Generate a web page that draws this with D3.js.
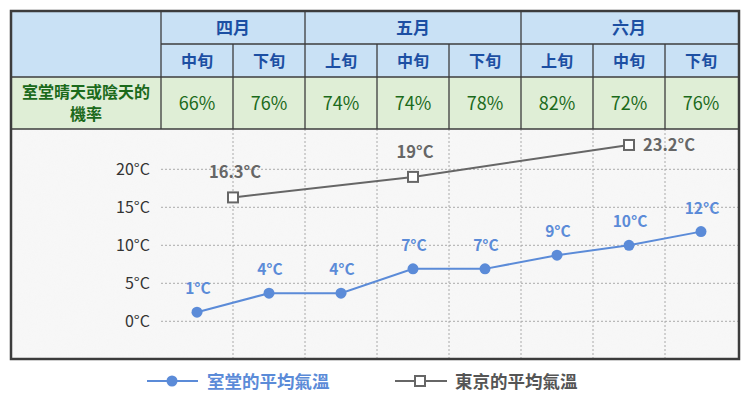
<!doctype html>
<html lang="zh-Hant">
<head>
<meta charset="utf-8">
<title>室堂與東京的平均氣溫</title>
<script src="https://d3js.org/d3.v7.min.js"></script>
<style>
  body { margin: 0; background: #fff; }
  svg text { font-family: "Noto Sans CJK TC", "Noto Sans", sans-serif; }
</style>
</head>
<body>
<div id="chart"></div>
<script>
// data
var months = ["四月", "五月", "六月"];
var monthSpans = [2, 3, 3];
var periods = ["中旬", "下旬", "上旬", "中旬", "下旬", "上旬", "中旬", "下旬"];
var clearRate = ["66%", "76%", "74%", "74%", "78%", "82%", "72%", "76%"];
var rowTitle = ["室堂晴天或陰天的", "機率"];
var murodoTemp = [1.2, 3.7, 3.7, 6.9, 6.9, 8.7, 10, 11.8];
var murodoLabels = ["1°C", "4°C", "4°C", "7°C", "7°C", "9°C", "10°C", "12°C"];
var tokyoPos = [0.5, 3, 6];
var tokyoTemp = [16.3, 19, 23.2];
var tokyoLabels = ["16.3°C", "19°C", "23.2°C"];
var yTicks = [0, 5, 10, 15, 20];
var seriesNames = ["室堂的平均氣溫", "東京的平均氣溫"];

var W = 750, H = 400;
var bx0 = 11, bx1 = 739, by0 = 11, by1 = 359;
var firstCol = 150, colW = 72;
var row1 = 33, row2 = 33, row3 = 52;
var chartTop = by0 + row1 + row2 + row3;

var blue = "#5b8bd8", gray = "#666", lineCol = "#3c3c3c";

var svg = d3.select("#chart").append("svg").attr("width", W).attr("height", H);

var x = d3.scaleLinear().domain([0, 1]).range([bx0 + firstCol + colW / 2, bx0 + firstCol + colW * 1.5]);
var y = d3.scaleLinear().domain([0, 20]).range([321.3, 169.3]);

// backgrounds
svg.append("rect").attr("x", bx0).attr("y", by0).attr("width", bx1 - bx0).attr("height", row1 + row2)
  .attr("fill", "#c9e1f5");
svg.append("rect").attr("x", bx0).attr("y", by0 + row1 + row2).attr("width", bx1 - bx0).attr("height", row3)
  .attr("fill", "#dfeed6");

var defs = svg.append("defs");
var f = defs.append("filter").attr("id", "paper");
f.append("feTurbulence").attr("type", "fractalNoise").attr("baseFrequency", 0.9).attr("numOctaves", 2).attr("result", "n");
f.append("feColorMatrix").attr("in", "n").attr("type", "matrix")
  .attr("values", "0 0 0 0 0.92  0 0 0 0 0.92  0 0 0 0 0.92  0 0 0 -1.4 0.9");
f.append("feComposite").attr("in2", "SourceGraphic").attr("operator", "in");
svg.append("rect").attr("x", bx0).attr("y", chartTop).attr("width", bx1 - bx0).attr("height", by1 - chartTop)
  .attr("fill", "#f7f7f7");
svg.append("rect").attr("x", bx0).attr("y", chartTop).attr("width", bx1 - bx0).attr("height", by1 - chartTop)
  .attr("fill", "#f7f7f7").attr("filter", "url(#paper)").attr("opacity", 0.8);

// grid
var colEdges = d3.range(1, periods.length).map(function(i) { return x(i - 0.5); });
svg.append("g").selectAll("line").data(colEdges).enter().append("line")
  .attr("x1", function(d) { return d; }).attr("x2", function(d) { return d; })
  .attr("y1", chartTop).attr("y2", by1)
  .attr("stroke", "#aaa").attr("stroke-dasharray", "2,2");
svg.append("g").selectAll("line").data(yTicks).enter().append("line")
  .attr("x1", bx0 + firstCol).attr("x2", bx1)
  .attr("y1", function(d) { return y(d); }).attr("y2", function(d) { return y(d); })
  .attr("stroke", "#aaa").attr("stroke-dasharray", "2,2");

// y axis labels
var yAxis = d3.axisLeft(y).tickValues(yTicks).tickSize(0).tickPadding(11)
  .tickFormat(function(d) { return d + "°C"; });
var ya = svg.append("g").attr("transform", "translate(" + (bx0 + firstCol) + ",0)").call(yAxis);
ya.select(".domain").remove();
ya.selectAll("text").attr("font-size", 16).attr("fill", "#333")
  .style("font-family", "'Noto Sans CJK TC', sans-serif");

// table lines
var tl = svg.append("g").attr("stroke", lineCol).attr("stroke-width", 1.3);
[by0 + row1 + row2, chartTop].forEach(function(yy) {
  tl.append("line").attr("x1", bx0).attr("x2", bx1).attr("y1", yy).attr("y2", yy);
});
tl.append("line").attr("x1", bx0 + firstCol).attr("x2", bx1).attr("y1", by0 + row1).attr("y2", by0 + row1);
tl.append("line").attr("x1", bx0 + firstCol).attr("x2", bx0 + firstCol).attr("y1", by0).attr("y2", chartTop);
var acc = 0;
var monthStart = monthSpans.map(function(s) { var a = acc; acc += s; return a; });
colEdges.forEach(function(cx, i) {
  var isMonth = monthStart.indexOf(i + 1) >= 0;
  tl.append("line").attr("x1", cx).attr("x2", cx)
    .attr("y1", isMonth ? by0 : by0 + row1).attr("y2", chartTop);
});
svg.append("rect").attr("x", bx0).attr("y", by0).attr("width", bx1 - bx0).attr("height", by1 - by0)
  .attr("fill", "none").attr("stroke", lineCol).attr("stroke-width", 2.5);

// header text
svg.append("g").selectAll("text").data(months).enter().append("text")
  .attr("x", function(d, i) { return x(monthStart[i] - 0.5 + monthSpans[i] / 2); })
  .attr("y", by0 + row1 / 2 + 6)
  .attr("text-anchor", "middle").attr("font-size", 17).attr("font-weight", "bold").attr("fill", "#1c4fa3")
  .text(function(d) { return d; });
svg.append("g").selectAll("text").data(periods).enter().append("text")
  .attr("x", function(d, i) { return x(i); })
  .attr("y", by0 + row1 + row2 / 2 + 6)
  .attr("text-anchor", "middle").attr("font-size", 16).attr("font-weight", "bold").attr("fill", "#1c4fa3")
  .text(function(d) { return d; });
svg.append("g").selectAll("text").data(clearRate).enter().append("text")
  .attr("x", function(d, i) { return x(i); })
  .attr("y", by0 + row1 + row2 + row3 / 2 + 6.5)
  .attr("text-anchor", "middle").attr("font-size", 18).attr("fill", "#1b6a1b")
  .text(function(d) { return d; });
svg.append("g").selectAll("text").data(rowTitle).enter().append("text")
  .attr("x", bx0 + firstCol / 2)
  .attr("y", function(d, i) { return by0 + row1 + row2 + 21 + i * 22; })
  .attr("text-anchor", "middle").attr("font-size", 16).attr("font-weight", "bold").attr("fill", "#1b6a1b")
  .text(function(d) { return d; });

// tokyo series
var tokyo = tokyoPos.map(function(p, i) { return { p: p, v: tokyoTemp[i], l: tokyoLabels[i] }; });
svg.append("path").datum(tokyo)
  .attr("d", d3.line().x(function(d) { return x(d.p); }).y(function(d) { return y(d.v); }))
  .attr("fill", "none").attr("stroke", gray).attr("stroke-width", 2);
svg.append("g").selectAll("rect").data(tokyo).enter().append("rect")
  .attr("x", function(d) { return x(d.p) - 5; }).attr("y", function(d) { return y(d.v) - 5; })
  .attr("width", 10).attr("height", 10).attr("fill", "#fff").attr("stroke", gray).attr("stroke-width", 2);
svg.append("g").selectAll("text").data(tokyo).enter().append("text")
  .attr("x", function(d, i) { return i === tokyo.length - 1 ? x(d.p) + 14 : x(d.p) + 2; })
  .attr("y", function(d, i) { return i === tokyo.length - 1 ? y(d.v) + 6 : y(d.v) - 19; })
  .attr("text-anchor", function(d, i) { return i === tokyo.length - 1 ? "start" : "middle"; })
  .attr("font-size", 16.5).attr("font-weight", "bold").attr("fill", gray)
  .text(function(d) { return d.l; });

// murodo series
var murodo = murodoTemp.map(function(v, i) { return { p: i, v: v, l: murodoLabels[i] }; });
svg.append("path").datum(murodo)
  .attr("d", d3.line().x(function(d) { return x(d.p); }).y(function(d) { return y(d.v); }))
  .attr("fill", "none").attr("stroke", blue).attr("stroke-width", 2);
svg.append("g").selectAll("circle").data(murodo).enter().append("circle")
  .attr("cx", function(d) { return x(d.p); }).attr("cy", function(d) { return y(d.v); })
  .attr("r", 5.5).attr("fill", blue);
svg.append("g").selectAll("text").data(murodo).enter().append("text")
  .attr("x", function(d) { return x(d.p) + 1; })
  .attr("y", function(d) { return y(d.v) - 18; })
  .attr("text-anchor", "middle").attr("font-size", 15.5).attr("font-weight", "bold").attr("fill", blue)
  .text(function(d) { return d.l; });

// legend
var lg = svg.append("g").attr("transform", "translate(0,381)");
lg.append("line").attr("x1", 147).attr("x2", 198).attr("stroke", blue).attr("stroke-width", 2);
lg.append("circle").attr("cx", 172).attr("r", 5.5).attr("fill", blue);
lg.append("text").attr("x", 207).attr("y", 6.5).attr("font-size", 17.5).attr("font-weight", "bold").attr("fill", blue)
  .text(seriesNames[0]);
lg.append("line").attr("x1", 395).attr("x2", 447).attr("stroke", gray).attr("stroke-width", 2);
lg.append("rect").attr("x", 415).attr("y", -5).attr("width", 10).attr("height", 10)
  .attr("fill", "#fff").attr("stroke", gray).attr("stroke-width", 2);
lg.append("text").attr("x", 455).attr("y", 6.5).attr("font-size", 17.5).attr("font-weight", "bold").attr("fill", "#555")
  .text(seriesNames[1]);
</script>
</body>
</html>
